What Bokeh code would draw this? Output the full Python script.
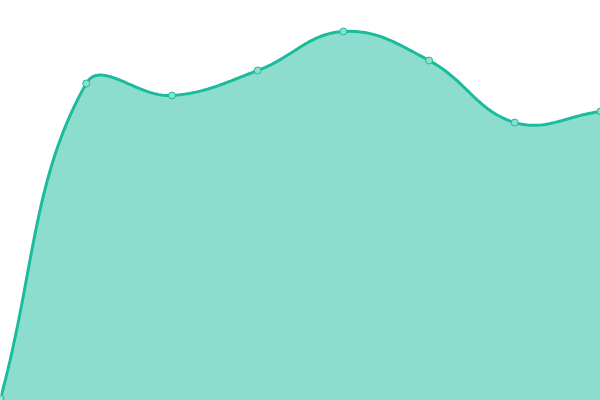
import numpy as np
from bokeh.plotting import figure
from bokeh.models import Range1d
from bokeh.embed import file_html
from bokeh.resources import INLINE

labels = ["1", "2", "3", "4", "5", "6", "7", "8"]
values = [2, 317, 305, 330, 369, 340, 278, 289]

W, H = 600, 400
x = np.arange(len(values), dtype=float)
y = np.array(values, dtype=float)

# pixel-space scale factors for Chart.js-like spline (tension 0.4)
sx = W / (len(values) - 1)
sy = H / 400.0
px, py = x * sx, y * sy
t = 0.4
n = len(px)
c1 = []  # control before point
c2 = []  # control after point
for i in range(n):
    prev = (px[max(i - 1, 0)], py[max(i - 1, 0)])
    cur = (px[i], py[i])
    nxt = (px[min(i + 1, n - 1)], py[min(i + 1, n - 1)])
    d01 = np.hypot(cur[0] - prev[0], cur[1] - prev[1])
    d12 = np.hypot(nxt[0] - cur[0], nxt[1] - cur[1])
    tot = d01 + d12
    s01 = d01 / tot if tot else 0
    s12 = d12 / tot if tot else 0
    fa, fb = t * s01, t * s12
    c1.append((cur[0] - fa * (nxt[0] - prev[0]), cur[1] - fa * (nxt[1] - prev[1])))
    c2.append((cur[0] + fb * (nxt[0] - prev[0]), cur[1] + fb * (nxt[1] - prev[1])))

cx, cy = [], []
ts = np.linspace(0, 1, 40)
for i in range(n - 1):
    p0 = np.array([px[i], py[i]])
    p1 = np.array(c2[i])
    p2 = np.array(c1[i + 1])
    p3 = np.array([px[i + 1], py[i + 1]])
    for tt in (ts if i == 0 else ts[1:]):
        b = ((1 - tt) ** 3) * p0 + 3 * ((1 - tt) ** 2) * tt * p1 + 3 * (1 - tt) * tt ** 2 * p2 + tt ** 3 * p3
        cx.append(b[0] / sx)
        cy.append(b[1] / sy)
cx = np.array(cx)
cy = np.array(cy)

p = figure(width=W, height=H, output_backend="svg", toolbar_location=None,
           x_range=Range1d(0, len(values) - 1), y_range=Range1d(0, 400),
           min_border=0, outline_line_color=None,
           styles={"position": "absolute", "left": "0px", "top": "0px"})
p.axis.visible = False
p.grid.visible = False
p.background_fill_color = "white"
p.border_fill_color = "white"

teal = "#1abc9c"
p.varea(x=cx, y1=np.zeros_like(cy), y2=cy, fill_color=teal, fill_alpha=0.5)
p.line(cx, cy, line_color=teal, line_width=3)
p.scatter(x, y, size=7, fill_color="#8ae0cf", line_color=teal, line_width=1)

open("out.html", "w").write(file_html(p, INLINE))
